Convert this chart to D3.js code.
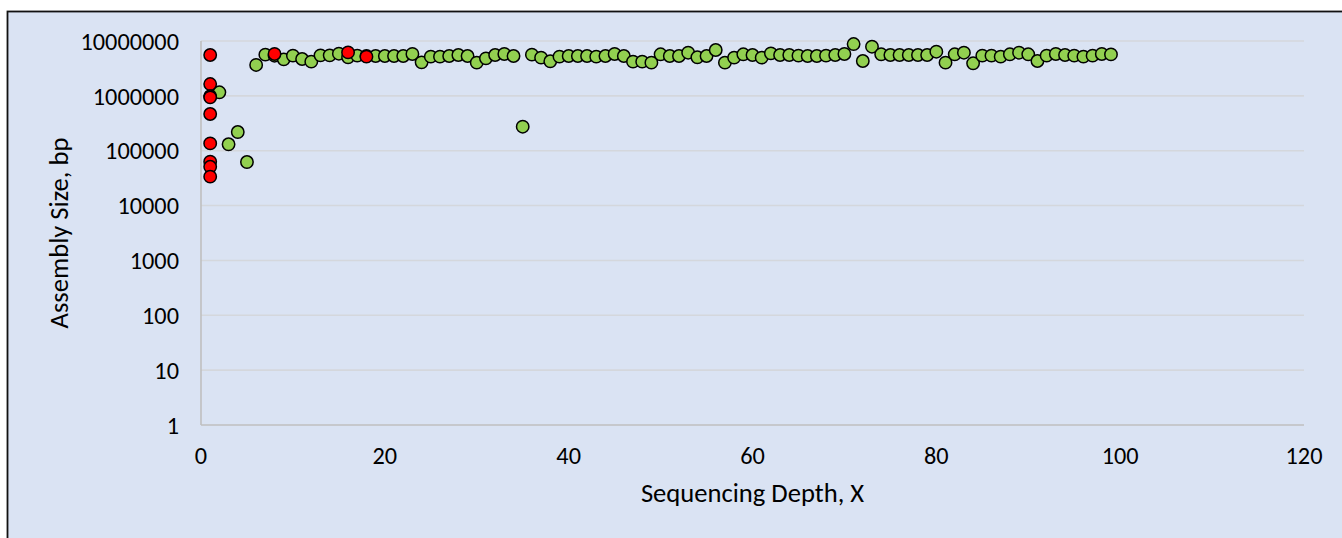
<!DOCTYPE html>
<html>
<head>
<meta charset="utf-8">
<script src="https://cdn.jsdelivr.net/npm/d3@7/dist/d3.min.js"></script>
<style>
  html, body { margin: 0; padding: 0; background: #ffffff; }
  svg { display: block; }
</style>
</head>
<body>
<svg id="chart" width="1342" height="538"></svg>
<script>
// ---------------- data ----------------
const greenX = [2,3,4,5,6,7,8,9,10,11,12,13,14,15,16,17,18,19,20,21,22,23,24,25,26,27,28,29,30,31,32,33,34,35,36,37,38,39,40,41,42,43,44,45,46,47,48,49,50,51,52,53,54,55,56,57,58,59,60,61,62,63,64,65,66,67,68,69,70,71,72,73,74,75,76,77,78,79,80,81,82,83,84,85,86,87,88,89,90,91,92,93,94,95,96,97,98,99];
const greenY = [1160000,131000,219000,62200,3660000,5640000,5400000,4630000,5410000,4700000,4200000,5480000,5480000,5870000,5040000,5410000,5330000,5330000,5330000,5330000,5330000,5800000,4080000,5180000,5180000,5330000,5560000,5330000,4030000,4830000,5560000,5800000,5330000,274000,5640000,4970000,4270000,5180000,5330000,5330000,
  5330000,5180000,5330000,5800000,5330000,4200000,4200000,4030000,5720000,5330000,5330000,6120000,5040000,5330000,6850000,4030000,4970000,5720000,5560000,4970000,5960000,5560000,5560000,5410000,5330000,5330000,5410000,5560000,5800000,8800000,4320000,7880000,5720000,5560000,5560000,5560000,5560000,5560000,6380000,4030000,5720000,6120000,3920000,5410000,5410000,5180000,5720000,6120000,5720000,4320000,5410000,5800000,5560000,5410000,5180000,5410000,5800000,5700000];
const redX = [1,1,1,1,1,1,1,1,1,8,16,18];
const redY = [5560000,1640000,990000,940000,467000,136000,63000,51000,33700,5800000,6200000,5180000];
const xTicks = [0,20,40,60,80,100,120];
const yTicks = [1,10,100,1000,10000,100000,1000000,10000000];
const xTitle = "Sequencing Depth, X";
const yTitle = "Assembly Size, bp";

// ---------------- layout ----------------
const svg = d3.select("#chart");
const FONT = "Carlito, Lato, 'Liberation Sans', sans-serif";
const plot = { left: 201, right: 1304, top: 41, bottom: 425 };

svg.append("rect")
  .attr("x", 7.5).attr("y", 11.5)
  .attr("width", 1400).attr("height", 600)
  .attr("fill", "#DAE3F3")
  .attr("stroke", "#111111")
  .attr("stroke-width", 1.8);

const x = d3.scaleLinear().domain([0, 120]).range([plot.left, plot.right]);
const y = d3.scaleLog().domain([1, 1e7]).range([plot.bottom, plot.top]);

// gridlines
svg.append("g")
  .selectAll("line")
  .data(yTicks.slice(1))
  .join("line")
  .attr("x1", plot.left).attr("x2", plot.right)
  .attr("y1", d => y(d)).attr("y2", d => y(d))
  .attr("stroke", "#D4D7DC")
  .attr("stroke-width", 1.6);

// axes lines
svg.append("line")
  .attr("x1", plot.left).attr("x2", plot.right)
  .attr("y1", y(1)).attr("y2", y(1))
  .attr("stroke", "#BFBFBF").attr("stroke-width", 1.6);
svg.append("line")
  .attr("x1", plot.left).attr("x2", plot.left)
  .attr("y1", y(1e7)).attr("y2", y(1))
  .attr("stroke", "#BFBFBF").attr("stroke-width", 1.6);

// y tick labels
svg.append("g")
  .selectAll("text")
  .data(yTicks)
  .join("text")
  .attr("x", 179)
  .attr("y", d => y(d))
  .attr("dy", "0.36em")
  .attr("text-anchor", "end")
  .attr("font-family", FONT)
  .attr("font-size", 24.3)
  .attr("fill", "#000")
  .text(d => String(d));

// x tick labels
svg.append("g")
  .selectAll("text")
  .data(xTicks)
  .join("text")
  .attr("x", d => x(d))
  .attr("y", 464)
  .attr("text-anchor", "middle")
  .attr("font-family", FONT)
  .attr("font-size", 24.3)
  .attr("fill", "#000")
  .text(d => String(d));

// axis titles
svg.append("text")
  .attr("x", (plot.left + plot.right) / 2)
  .attr("y", 502)
  .attr("text-anchor", "middle")
  .attr("font-family", FONT)
  .attr("font-size", 26.6)
  .attr("fill", "#000")
  .text(xTitle);

svg.append("text")
  .attr("transform", `translate(68,${(plot.top + plot.bottom) / 2}) rotate(-90)`)
  .attr("text-anchor", "middle")
  .attr("font-family", FONT)
  .attr("font-size", 26.6)
  .attr("fill", "#000")
  .text(yTitle);

// markers
const green = greenX.map((v, i) => ({ x: v, y: greenY[i] }));
const red = redX.map((v, i) => ({ x: v, y: redY[i] }));

svg.append("g")
  .selectAll("circle")
  .data(green)
  .join("circle")
  .attr("cx", d => x(d.x))
  .attr("cy", d => y(d.y))
  .attr("r", 6.2)
  .attr("fill", "#92D050")
  .attr("stroke", "#000")
  .attr("stroke-width", 1.5);

svg.append("g")
  .selectAll("circle")
  .data(red)
  .join("circle")
  .attr("cx", d => x(d.x))
  .attr("cy", d => y(d.y))
  .attr("r", 6.2)
  .attr("fill", "#FF0000")
  .attr("stroke", "#000")
  .attr("stroke-width", 1.5);
</script>
</body>
</html>
